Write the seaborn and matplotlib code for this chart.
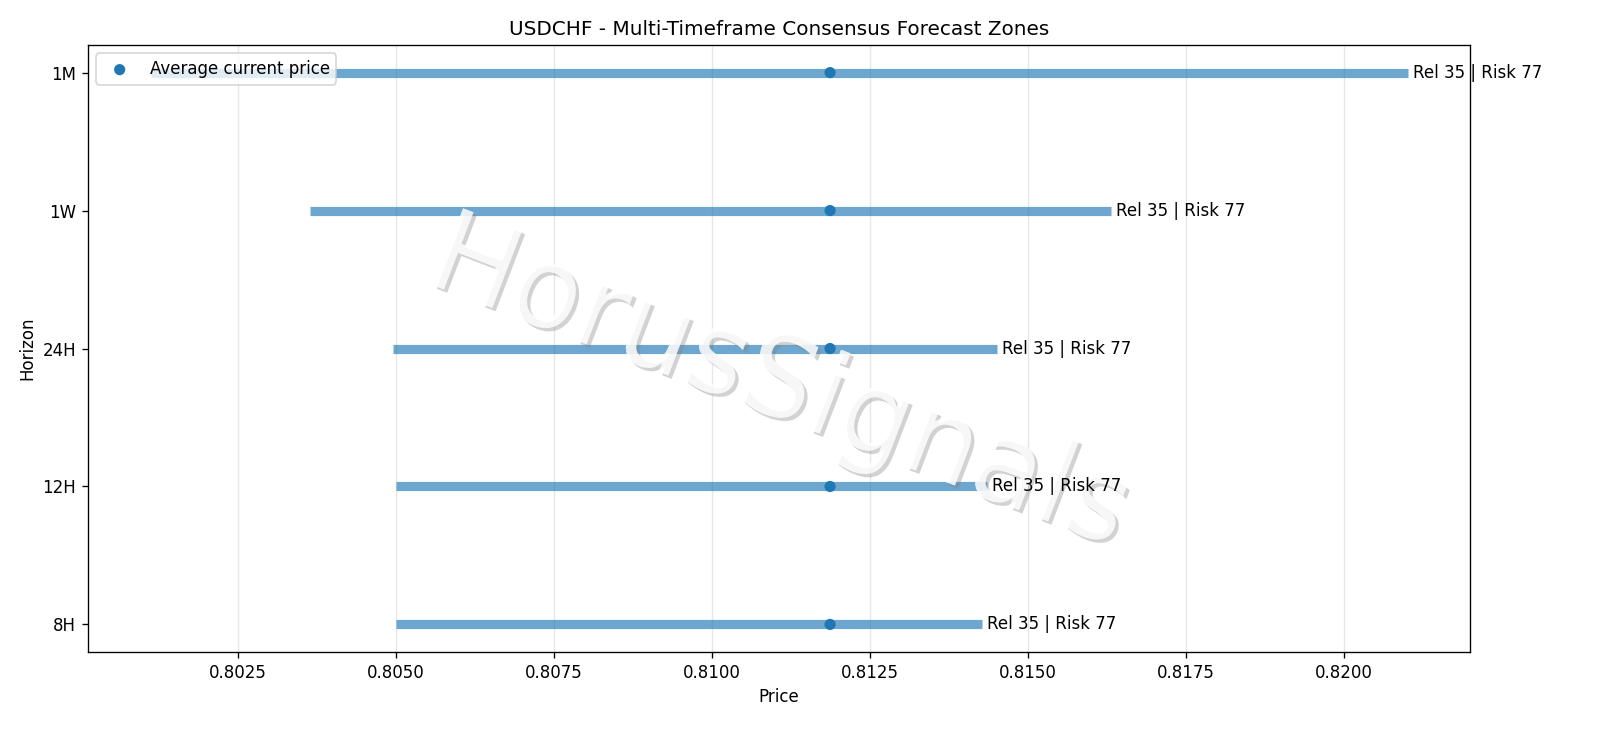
import numpy as np
import pandas as pd
import seaborn as sns
import matplotlib.pyplot as plt
import matplotlib.patheffects as pe

horizons = ['8H', '12H', '24H', '1W', '1M']
low = [0.8050, 0.8050, 0.80495, 0.80364, 0.80112]
high = [0.81427, 0.81435, 0.81451, 0.81631, 0.82101]
current = [0.81187, 0.81187, 0.81187, 0.81187, 0.81187]
rel = [35, 35, 35, 35, 35]
risk = [77, 77, 77, 77, 77]

df = pd.DataFrame({'horizon': horizons, 'low': low, 'high': high,
                   'current': current, 'rel': rel, 'risk': risk})
df['pos'] = np.arange(len(df))

fig, ax = plt.subplots(figsize=(1600 / 120, 738 / 120), dpi=120)
fig.subplots_adjust(left=0.055, right=0.919, top=0.939, bottom=0.1165)

blue = sns.color_palette()[0]
ax.hlines(df['pos'], df['low'], df['high'], color=blue, alpha=0.65, linewidth=5.5, zorder=2)
sns.scatterplot(data=df, x='current', y='pos', ax=ax, color=blue, s=45,
                edgecolor='none', label='Average current price', zorder=4)

for _, r in df.iterrows():
    ax.annotate(f"Rel {r['rel']} | Risk {r['risk']}", (r['high'], r['pos']),
                xytext=(3, 0), textcoords='offset points', va='center',
                fontsize=10, zorder=4)

ax.set_yticks(df['pos'])
ax.set_yticklabels(df['horizon'])
ax.grid(axis='x', alpha=0.3)
ax.set_axisbelow(True)
ax.set_xlabel('Price')
ax.set_ylabel('Horizon')
ax.set_title('USDCHF - Multi-Timeframe Consensus Forecast Zones')
ax.legend(loc='upper left')

# watermark
ax.text(0.5, 0.44, 'HorusSignals', transform=ax.transAxes, fontsize=68,
        rotation=-21, ha='center', va='center', color='white', alpha=0.6, zorder=3,
        path_effects=[pe.withSimplePatchShadow(offset=(2, -2), shadow_rgbFace='gray', alpha=0.35),
                      pe.Normal()])

fig.savefig('out.png', dpi=120)
